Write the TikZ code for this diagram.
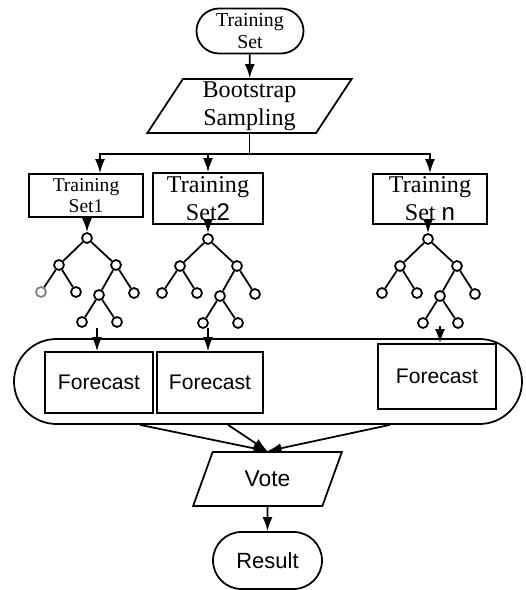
\documentclass[tikz,border=0pt]{standalone}
\usepackage{fontspec}
\setmainfont{Liberation Serif}
\setsansfont{Liberation Sans}
\usetikzlibrary{shapes.geometric,arrows.meta,calc}

\tikzset{
  terminal/.style={draw, rectangle, inner sep=0pt, align=center},
  slanted/.style={draw, trapezium, trapezium left angle=63, trapezium right angle=117,
    trapezium stretches, inner sep=0pt, align=center},
  setbox/.style={draw, rectangle, inner sep=0pt, align=center},
  fcbox/.style={draw, rectangle, inner sep=0pt, font=\sffamily\fontsize{12}{14}\selectfont},
  leaf/.style={draw, circle, minimum size=0.2cm, inner sep=0pt},
  arr/.style={-{Latex[length=2.8mm,width=2mm]}}
}

\begin{document}
\begin{tikzpicture}[line width=1pt]
\useasboundingbox (0,0) rectangle (10.5,11.8);

% input and sampling
\node[terminal, rounded corners=0.45cm, minimum width=2.14cm, minimum height=0.9cm,
  font=\fontsize{11.3}{12}\selectfont] (train) at (5.0,11.18) {Training\\Set};
\node[slanted, minimum width=4.1cm, minimum height=1.08cm,
  font=\fontsize{13.7}{16}\selectfont] (boot) at (4.99,9.68) {Bootstrap\\Sampling};
\draw[arr] (train) -- (boot);

% sub training sets
\node[setbox, minimum width=2.28cm, minimum height=0.86cm,
  font=\fontsize{11.1}{12}\selectfont] (ts1) at (1.72,7.89) {Training\\Set1};
\node[setbox, minimum width=2.2cm, minimum height=1.02cm,
  font=\fontsize{13.7}{16}\selectfont] (ts2) at (4.16,7.83) {Training\\Set{\sffamily 2}};
\node[setbox, minimum width=2.28cm, minimum height=1.0cm,
  font=\fontsize{13.7}{16}\selectfont] (tsn) at (8.6,7.82) {Training\\Set {\sffamily n}};

\coordinate (split) at ($(boot.south)+(0,-0.4)$);
\draw (boot.south) -- (split);
\draw[arr] (split) -| ([xshift=0.28cm]ts1.north);
\draw[arr] (split) -| (ts2.north);
\draw[arr] (split) -| (tsn.north);

% decision trees
\foreach \t/\x/\y/\c in {1/1.74/7.04/gray, 2/4.16/7.02/black, n/8.56/7.02/black} {
  \begin{scope}[shift={(\x,\y)}]
    \node[leaf] (r\t) at (0,0) {};
    \node[leaf] (a\t) at (-0.56,-0.54) {};
    \node[leaf] (b\t) at (0.58,-0.54) {};
    \node[leaf, draw=\c] (c\t) at (-0.92,-1.08) {};
    \node[leaf] (d\t) at (-0.22,-1.08) {};
    \node[leaf] (e\t) at (0.24,-1.14) {};
    \node[leaf] (f\t) at (0.94,-1.1) {};
    \node[leaf] (g\t) at (-0.1,-1.68) {};
    \node[leaf] (h\t) at (0.6,-1.68) {};
  \end{scope}
  \draw (r\t) -- (a\t) (r\t) -- (b\t) (a\t) -- (c\t) (a\t) -- (d\t)
        (b\t) -- (e\t) (b\t) -- (f\t) (e\t) -- (g\t) (e\t) -- (h\t);
}
\draw[arr] (r1 |- ts1.south) -- (r1);
\draw[arr] (r2 |- ts2.south) -- (r2);
\draw[arr] (rn |- tsn.south) -- (rn);

% forecasts
\node[draw, rounded corners=0.85cm, minimum width=10.16cm, minimum height=1.7cm] (pool) at (5.36,4.17) {};
\node[fcbox, minimum width=2.16cm, minimum height=1.22cm] (fc1) at (1.98,4.15) {Forecast};
\node[fcbox, minimum width=2.12cm, minimum height=1.22cm] (fc2) at (4.2,4.15) {Forecast};
\node[fcbox, minimum width=2.36cm, minimum height=1.3cm] (fcn) at (8.74,4.27) {Forecast};

\coordinate (o1) at (1.94,5.24);
\coordinate (o2) at (4.16,5.24);
\coordinate (on) at (8.8,5.28);
\draw[arr] (o1) -- (o1 |- fc1.north);
\draw[arr] (o2) -- (o2 |- fc2.north);
\draw[arr] (on) -- (on |- fcn.north);

% voting
\node[slanted, minimum width=2.98cm, minimum height=1.08cm,
  font=\sffamily\fontsize{13}{15}\selectfont] (vote) at (5.35,2.22) {Vote};
\draw[arr] ([xshift=-2.56cm]pool.south) -- (vote.north);
\draw[arr] ([xshift=-0.8cm]pool.south) -- (vote.north);
\draw[arr] ([xshift=2.44cm]pool.south) -- (vote.north);

\node[terminal, rounded corners=0.57cm, minimum width=2.18cm, minimum height=1.14cm,
  font=\sffamily\fontsize{12.5}{14}\selectfont] (result) at (5.35,0.59) {Result};
\draw[arr] (vote) -- (result);
\end{tikzpicture}
\end{document}
